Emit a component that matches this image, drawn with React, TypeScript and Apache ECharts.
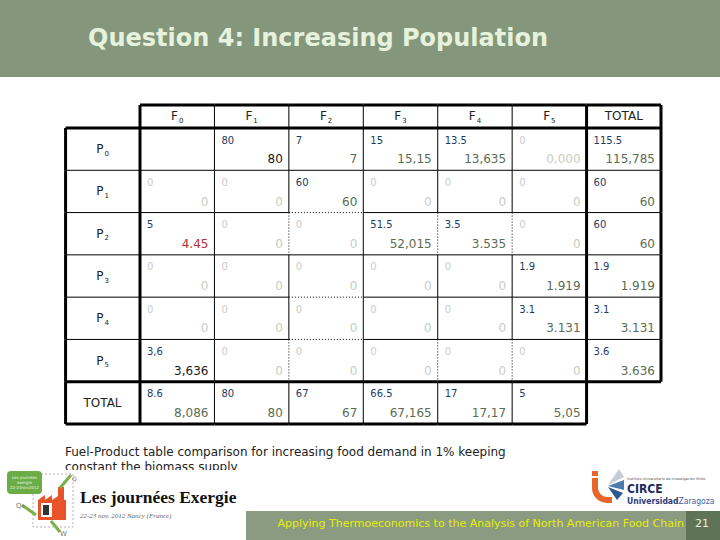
import React, { useEffect, useRef } from "react";
import * as echarts from "echarts";

// ---- Data ----
const fuelColumns = ["F0", "F1", "F2", "F3", "F4", "F5", "TOTAL"];
const productRows = ["P0", "P1", "P2", "P3", "P4", "P5", "TOTAL"];

// reference values (small, top-left of each cell)
const baseValues: string[][] = [
  ["", "80", "7", "15", "13.5", "0", "115.5"],
  ["0", "0", "60", "0", "0", "0", "60"],
  ["5", "0", "0", "51.5", "3.5", "0", "60"],
  ["0", "0", "0", "0", "0", "1.9", "1.9"],
  ["0", "0", "0", "0", "0", "3.1", "3.1"],
  ["3,6", "0", "0", "0", "0", "0", "3.6"],
  ["8.6", "80", "67", "66.5", "17", "5"],
];

// increased-demand values (large, bottom-right of each cell)
const newValues: string[][] = [
  ["", "80", "7", "15,15", "13,635", "0,000", "115,785"],
  ["0", "0", "60", "0", "0", "0", "60"],
  ["4.45", "0", "0", "52,015", "3.535", "0", "60"],
  ["0", "0", "0", "0", "0", "1.919", "1.919"],
  ["0", "0", "0", "0", "0", "3.131", "3.131"],
  ["3,636", "0", "0", "0", "0", "0", "3.636"],
  ["8,086", "80", "67", "67,165", "17,17", "5,05"],
];

// cells whose new value is highlighted (col, row)
const darkCells: [number, number][] = [[1, 0], [0, 5]];
const redCells: [number, number][] = [[0, 2]];

// dotted cell edges: [col, row, side]
const dottedEdges: [number, number, string][] = [
  [2, 1, "bottom"], [1, 2, "right"], [3, 2, "right"], [4, 2, "right"],
  [2, 3, "bottom"], [2, 4, "bottom"], [1, 5, "right"], [3, 5, "right"], [4, 5, "right"],
];

const isZero = (s: string) => s !== "" && parseFloat(s.replace(",", ".")) === 0;
const inList = (list: [number, number][], c: number, r: number) => list.some(([a, b]) => a === c && b === r);
const isDotted = (c: number, r: number, side: string) => dottedEdges.some(([a, b, s]) => a === c && b === r && s === side);

const subLabel = (v: string) => (v === "TOTAL" ? "{b|TOTAL}" : `{b|${v[0]}}{s|${v.slice(1)}}`);

export default function App() {
  const ref = useRef<HTMLDivElement>(null);
  useEffect(() => {
    if (!ref.current) return;
    const chart = echarts.init(ref.current, null, { renderer: "svg" });

    const cellData: number[][] = [];
    baseValues.forEach((row, r) => row.forEach((_, c) => cellData.push([c, r])));

    const thin = { stroke: "#000", lineWidth: 1 };
    const thick = { stroke: "#000", lineWidth: 3 };
    const dotted = { stroke: "#000", lineWidth: 1, lineDash: [1, 2] };

    const line = (x1: number, y1: number, x2: number, y2: number, style: any) => ({
      type: "line",
      shape: { x1, y1, x2, y2 },
      style,
    });

    const renderItem = (params: any, api: any) => {
      const c = api.value(0);
      const r = api.value(1);
      const [cx, cy] = api.coord([c, r]);
      const [w, h] = api.size([1, 1]);
      const x0 = cx - w / 2;
      const y0 = cy - h / 2;
      const x1 = x0 + w;
      const y1 = y0 + h;
      const children: any[] = [];
      const top = baseValues[r][c];
      const bot = newValues[r][c];

      if (top !== "") {
        children.push({
          type: "text",
          style: {
            text: top, x: x0 + 7, y: y0 + 12, align: "left", verticalAlign: "middle",
            fontFamily: "DejaVu Sans", fontSize: 10,
            fill: isZero(top) ? "#cccccc" : "#1e3a66",
          },
        });
      }
      if (bot !== "") {
        let fill = isZero(bot) ? "#c9cdc4" : "#5b6c52";
        if (inList(darkCells, c, r)) fill = "#1a1a1a";
        if (inList(redCells, c, r)) fill = "#b3303a";
        children.push({
          type: "text",
          style: {
            text: bot, x: x1 - 6, y: y1 - 11, align: "right", verticalAlign: "middle",
            fontFamily: "DejaVu Sans", fontSize: 12, fill,
          },
        });
      }

      // borders
      const rightStyle = c >= 5 ? thick : isDotted(c, r, "right") ? dotted : thin;
      const bottomStyle = r >= 5 ? thick : isDotted(c, r, "bottom") ? dotted : thin;
      children.push(line(x1, y0, x1, y1, rightStyle));
      children.push(line(x0, y1, x1, y1, bottomStyle));
      if (c === 0) {
        children.push(line(x0, y0, x0, y1, thick));
        // row label box
        children.push(line(x0 - w, y0, x0 - w, y1, thick));
        children.push(line(x0 - w, y1, x0, y1, r >= 5 ? thick : thin));
        if (r === 0) children.push(line(x0 - w, y0, x0, y0, thick));
      }
      if (r === 0) {
        children.push(line(x0, y0, x1, y0, thick));
        // header box
        const hy = y0 - 23;
        children.push(line(x0, hy, x1, hy, thick));
        children.push(line(x1, hy, x1, y0, c >= 5 ? thick : thin));
        if (c === 0) children.push(line(x0, hy, x0, y0, thick));
      }
      return { type: "group", children };
    };

    const axisRich = {
      b: { fontFamily: "DejaVu Sans", fontSize: 12, color: "#222", lineHeight: 16 },
      s: { fontFamily: "DejaVu Sans", fontSize: 7, color: "#222", lineHeight: 16, verticalAlign: "bottom", padding: [6, 0, 0, 1] },
    };

    const option: any = {
      animation: false,
      backgroundColor: "#ffffff",
      grid: { left: 140, right: 59, top: 128, bottom: 116 },
      xAxis: {
        type: "category",
        position: "top",
        data: fuelColumns,
        axisLine: { show: false },
        axisTick: { show: false },
        splitLine: { show: false },
        axisLabel: { margin: 4, formatter: subLabel, rich: axisRich },
      },
      yAxis: {
        type: "category",
        inverse: true,
        data: productRows,
        axisLine: { show: false },
        axisTick: { show: false },
        splitLine: { show: false },
        axisLabel: { margin: 37.5, align: "center", formatter: subLabel, rich: axisRich },
      },
      series: [
        {
          type: "custom",
          clip: false,
          data: cellData,
          renderItem,
          encode: { x: 0, y: 1 },
        },
      ],
      graphic: [
        // header band
        { type: "rect", shape: { x: 0, y: 0, width: 720, height: 77 }, style: { fill: "#84967c" }, z: -1 },
        {
          type: "text", x: 88, y: 38,
          style: {
            text: "Question 4: Increasing Population", fill: "#e6f2dc",
            fontFamily: "DejaVu Sans", fontWeight: "bold", fontSize: 24,
            verticalAlign: "middle",
          },
        },
        // caption
        {
          type: "text", x: 65, y: 452,
          style: {
            text: "Fuel-Product table comparison for increasing food demand in 1% keeping",
            fill: "#222", fontFamily: "DejaVu Sans", fontSize: 12, verticalAlign: "middle",
          },
        },
        {
          type: "text", x: 65, y: 467,
          style: {
            text: "constant the biomass supply",
            fill: "#222", fontFamily: "DejaVu Sans", fontSize: 12, verticalAlign: "middle",
          },
        },
        // footer cover
        { type: "rect", shape: { x: 0, y: 470, width: 720, height: 70 }, style: { fill: "#ffffff" } },
        // left logo
        { type: "rect", shape: { x: 33, y: 474, width: 40, height: 53 }, style: { fill: "none", stroke: "#c9a8b8", lineWidth: 1, lineDash: [2, 2] } },
        { type: "rect", shape: { x: 7, y: 471, width: 35, height: 23, r: 4 }, style: { fill: "#6aad46" } },
        {
          type: "text", x: 24.5, y: 482,
          style: { text: "Les journées\nexergie\n22-23nov2012", fill: "#eaf5e0", fontSize: 4, fontFamily: "DejaVu Sans", align: "center", verticalAlign: "middle", lineHeight: 5 },
        },
        {
          type: "polygon",
          shape: { points: [[38, 520], [38, 500], [45, 495], [45, 500], [52, 495], [52, 500], [58, 496], [58, 487], [64, 487], [64, 500], [66, 500], [66, 520]] },
          style: { fill: "#e8532a" },
        },
        { type: "rect", shape: { x: 41, y: 503, width: 11, height: 14 }, style: { fill: "#ffffff" } },
        { type: "rect", shape: { x: 43, y: 505, width: 6, height: 10 }, style: { fill: "#333" } },
        { type: "line", shape: { x1: 22, y1: 505, x2: 36, y2: 515 }, style: { stroke: "#7ab04a", lineWidth: 3 } },
        { type: "line", shape: { x1: 51, y1: 521, x2: 60, y2: 532 }, style: { stroke: "#7ab04a", lineWidth: 3 } },
        { type: "line", shape: { x1: 60, y1: 488, x2: 71, y2: 475 }, style: { stroke: "#7ab04a", lineWidth: 3 } },
        { type: "text", x: 16, y: 502, style: { text: "Q₀", fontSize: 7, fill: "#777", fontFamily: "DejaVu Sans" } },
        { type: "text", x: 60, y: 530, style: { text: "W", fontSize: 7, fill: "#777", fontFamily: "DejaVu Sans" } },
        { type: "text", x: 72, y: 475, style: { text: "Q", fontSize: 6, fill: "#777", fontFamily: "DejaVu Sans" } },
        {
          type: "text", x: 80, y: 497,
          style: { text: "Les journées Exergie", fill: "#111", fontFamily: "Liberation Serif", fontWeight: "bold", fontSize: 17.5, verticalAlign: "middle" },
        },
        {
          type: "text", x: 80, y: 516,
          style: { text: "22-23 nov. 2012 Nancy (France)", fill: "#666", fontFamily: "Liberation Serif", fontStyle: "italic", fontSize: 7, verticalAlign: "middle" },
        },
        // right logo
        { type: "arc", shape: { cx: 607, cy: 488, r: 12, startAngle: Math.PI / 2, endAngle: Math.PI, clockwise: true }, style: { stroke: "#e8662a", lineWidth: 6, fill: "none" } },
        { type: "rect", shape: { x: 592, y: 478, width: 6, height: 11 }, style: { fill: "#e8662a" } },
        { type: "rect", shape: { x: 592, y: 471, width: 6, height: 5 }, style: { fill: "#e8662a" } },
        { type: "rect", shape: { x: 606, y: 497, width: 6, height: 6 }, style: { fill: "#e8662a" } },
        { type: "polygon", shape: { points: [[608, 485], [619, 469], [624, 477]] }, style: { fill: "#c5ccd6" } },
        { type: "polygon", shape: { points: [[608, 486], [624, 480], [624, 490]] }, style: { fill: "#4a7bb3" } },
        { type: "polygon", shape: { points: [[608, 487], [623, 493], [617, 500]] }, style: { fill: "#2c5791" } },
        { type: "text", x: 627, y: 479, style: { text: "Instituto Universitario de Investigación Mixto", fill: "#555", fontSize: 3.5, fontFamily: "DejaVu Sans", verticalAlign: "middle" } },
        { type: "text", x: 627, y: 489, style: { text: "CIRCE", fill: "#1f2c5c", fontSize: 12, fontWeight: "bold", fontFamily: "DejaVu Sans Condensed", verticalAlign: "middle" } },
        {
          type: "text", x: 627, y: 501,
          style: {
            text: "{a|Universidad}{b|Zaragoza}", verticalAlign: "middle",
            rich: {
              a: { fontSize: 8.5, fontWeight: "bold", fill: "#2a3c7a", fontFamily: "DejaVu Sans Condensed" },
              b: { fontSize: 8.5, fill: "#3b5ea8", fontFamily: "DejaVu Sans Condensed" },
            },
          },
        },
        // footer bar
        { type: "rect", shape: { x: 246, y: 511, width: 440, height: 29 }, style: { fill: "#8a9b82" } },
        { type: "rect", shape: { x: 686, y: 511, width: 34, height: 29 }, style: { fill: "#5f7456" } },
        {
          type: "text", x: 684, y: 523,
          style: { text: "Applying Thermoeconomics to the Analysis of North American Food Chain", fill: "#e6ef00", fontFamily: "DejaVu Sans", fontSize: 11, align: "right", verticalAlign: "middle" },
        },
        {
          type: "text", x: 702, y: 523,
          style: { text: "21", fill: "#eef0dc", fontFamily: "DejaVu Sans", fontSize: 11, align: "center", verticalAlign: "middle" },
        },
      ],
    };
    chart.setOption(option);
    return () => chart.dispose();
  }, []);
  return <div ref={ref} style={{ position: "fixed", left: 0, top: 0, width: 720, height: 540 }} />;
}
